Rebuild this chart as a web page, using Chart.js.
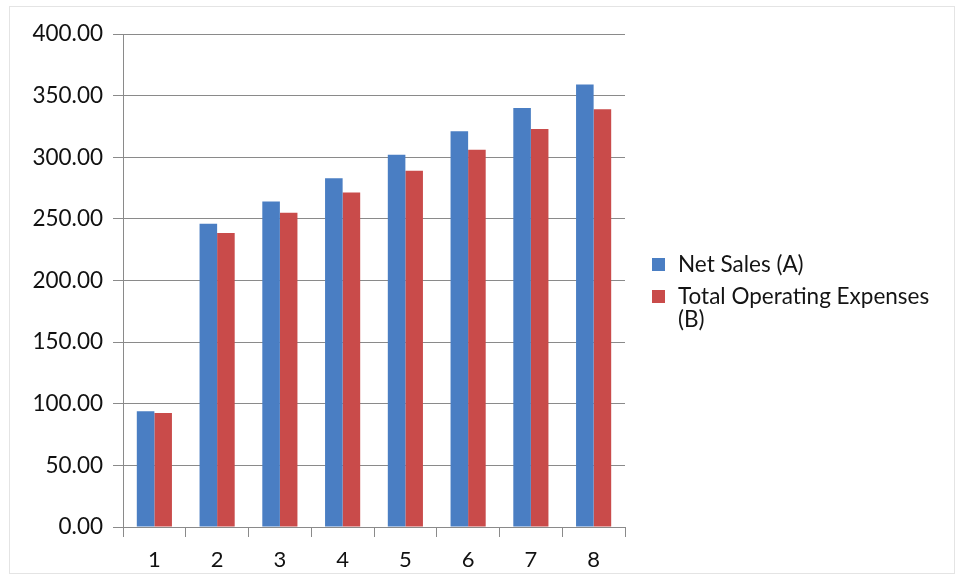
<!DOCTYPE html>
<html>
<head>
<meta charset="utf-8">
<script src="https://cdn.jsdelivr.net/npm/chart.js@4.4.0/dist/chart.umd.min.js"></script>
<style>
  html, body { margin: 0; padding: 0; background: #fff; }
  #wrap { position: relative; width: 963px; height: 581px; }
  #frame { position: absolute; left: 9px; top: 6px; width: 946px; height: 568px; border: 1px solid #e4e4e4; box-sizing: border-box; }
  #legend { position: absolute; left: 652px; top: 252px; font-family: Lato, "Open Sans", sans-serif; font-size: 22.5px; color: #141414; }
  .item { position: relative; padding-left: 26px; width: 275px; line-height: 23px; margin-bottom: 9px; }
  .sw { position: absolute; left: 0; top: 6px; width: 13px; height: 13px; }
</style>
</head>
<body>
<div id="wrap">
  <div id="frame"></div>
  <canvas id="myChart" width="963" height="581"></canvas>
  <div id="legend"></div>
</div>
<script>
// DATA
const categories = ["1", "2", "3", "4", "5", "6", "7", "8"];
const netSales = [94, 246, 264, 283, 302, 321, 340, 359];
const operatingExpenses = [92.5, 238.5, 255, 271.5, 289, 306, 323, 339];
const seriesNames = ["Net Sales (A)", "Total Operating Expenses (B)"];
const seriesColors = ["#4a7ec3", "#c94b4a"];

const axisGray = "#8a8a8a";
const fontFam = "Lato, 'Open Sans', sans-serif";

const data1 = {
    labels: categories,
    datasets: [
        {
            label: seriesNames[0],
            data: netSales,
            backgroundColor: seriesColors[0],
            borderWidth: 0,
        },
        {
            label: seriesNames[1],
            data: operatingExpenses,
            backgroundColor: seriesColors[1],
            borderWidth: 0,
        }
    ]
};

const config = {
    type: 'bar',
    data: data1,
    options: {
        responsive: false,
        animation: false,
        categoryPercentage: 0.56,
        barPercentage: 1.0,
        layout: {
            padding: { left: 0, right: 338, top: 34, bottom: 4 }
        },
        plugins: {
            legend: { display: false },
            tooltip: { enabled: false }
        },
        scales: {
            x: {
                grid: {
                    offset: true,
                    drawOnChartArea: false,
                    color: axisGray,
                    tickLength: 10,
                },
                border: { color: axisGray },
                ticks: {
                    color: '#111',
                    padding: 10,
                    font: { family: fontFam, size: 22 }
                },
                afterFit: (s) => { s.height = 50; }
            },
            y: {
                min: 0,
                max: 400,
                ticks: {
                    stepSize: 50,
                    color: '#111',
                    padding: 10,
                    font: { family: fontFam, size: 22.5 },
                    callback: (v) => v.toFixed(2)
                },
                grid: {
                    color: axisGray,
                    tickLength: 10,
                },
                border: { color: axisGray },
                afterFit: (s) => { s.width = 123; }
            }
        }
    }
};

var myChart = new Chart(document.querySelector('#myChart'), config);

// LEGEND (html so the long label can wrap)
const legend = document.querySelector('#legend');
for (let i = 0; i < seriesNames.length; i++) {
    const item = document.createElement('div');
    item.className = 'item';
    const sw = document.createElement('span');
    sw.className = 'sw';
    sw.style.background = seriesColors[i];
    item.appendChild(sw);
    item.appendChild(document.createTextNode(seriesNames[i]));
    legend.appendChild(item);
}
</script>
</body>
</html>
